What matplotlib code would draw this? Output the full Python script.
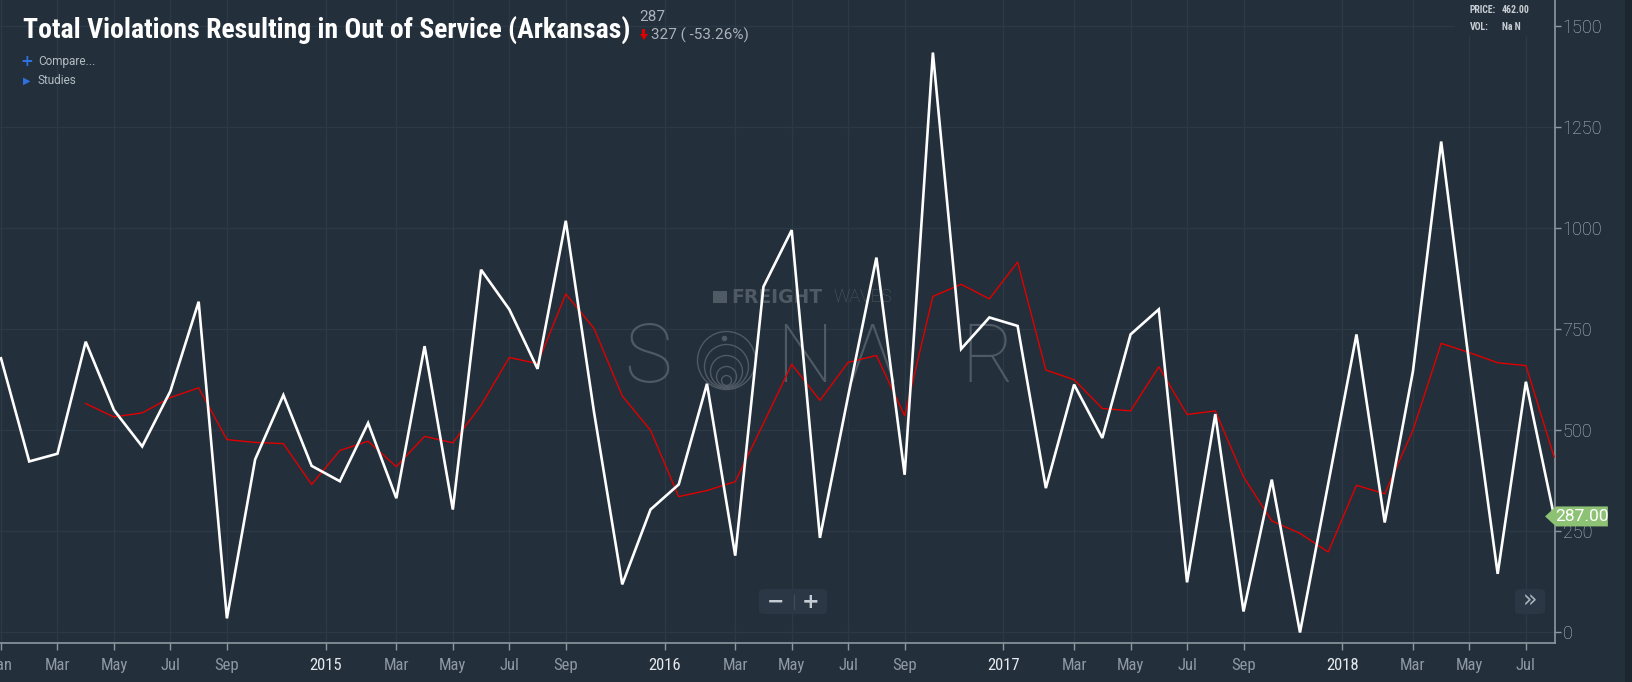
import numpy as np
import pandas as pd
import matplotlib
matplotlib.use("Agg")
import matplotlib.pyplot as plt
from matplotlib import font_manager
from matplotlib.font_manager import FontProperties
from matplotlib.patches import Polygon, Rectangle, FancyBboxPatch
from matplotlib.lines import Line2D

# ==========================================================
# Data (monthly, Jan 2014 - Aug 2018)
# ==========================================================

white_values = [
    678, 423, 442, 719, 550, 460, 597, 818, 35, 428, 587, 412,      # 2014
    374, 518, 332, 708, 304, 897, 799, 652, 1018, 545, 119, 304,    # 2015
    366, 615, 190, 855, 995, 234, 585, 927, 390, 1434, 701, 779,    # 2016
    758, 357, 613, 481, 737, 799, 124, 540, 52, 378, 0, 368,        # 2017
    737, 272, 646, 1214, 660, 145, 620, 287,                        # 2018
]

# red average line starts in Apr 2014
red_start = 3
red_values = [
    566, 533, 543, 581, 605, 477, 470, 467, 366,
    450, 473, 410, 485, 469, 562, 680, 665, 837, 752, 585, 500,
    336, 351, 373, 517, 663, 574, 668, 685, 536, 831, 861, 825,
    916, 649, 625, 554, 548, 657, 539, 548, 385, 276, 245, 199,
    364, 343, 500, 715, 692, 667, 660, 434,
]

y_ticks = [0, 250, 500, 750, 1000, 1250, 1500]
last_value = 287

months = pd.period_range("2014-01", periods=len(white_values), freq="M")

# ==========================================================
# Style
# ==========================================================

W, H = 1633, 682
BG = "#232f3a"
GRID = "#2c3a47"
AXIS = "#8e989f"


def pick_narrow():
    # a condensed family if one is installed, else plain Roboto
    for fam in ["Roboto Condensed", "Liberation Sans Narrow", "Open Sans Condensed"]:
        try:
            font_manager.findfont(FontProperties(family=fam), fallback_to_default=False)
            return dict(family=[fam, "DejaVu Sans"])
        except ValueError:
            pass
    f = font_manager.findfont(FontProperties(family="DejaVu Sans", stretch="condensed",
                                             weight="bold"))
    if "Condensed" in f:
        return dict(family=["DejaVu Sans"], fontstretch="condensed")
    return dict(family=["Roboto", "DejaVu Sans"])


NARROW = pick_narrow()
ROBOTO = ["Roboto", "DejaVu Sans"]


def fx(px):
    return px / W


def fy(py):
    return 1 - py / H


fig = plt.figure(figsize=(W / 100, H / 100), dpi=100, facecolor=BG)
ax = fig.add_axes([0, fy(643), fx(1555), 643 / H])
ax.set_facecolor(BG)

x = np.arange(len(white_values))
ax.plot(x[red_start:], red_values, color="#e00000", lw=1.0, zorder=3)
ax.plot(x, white_values, color="white", lw=1.9, zorder=4,
        solid_joinstyle="miter")

ax.set_xlim(-0.035, 55.03)
ax.set_ylim(-26, 1564)

# x ticks: first month, odd months, year labels half a bar early
tick_pos, tick_lab, is_year = [], [], []
for i, m in enumerate(months):
    if i == 0:
        tick_pos.append(i)
        tick_lab.append(m.strftime("%b"))
        is_year.append(False)
    elif m.month == 1:
        tick_pos.append(i - 0.5)
        tick_lab.append(str(m.year))
        is_year.append(True)
    elif m.month in (3, 5, 7, 9):
        tick_pos.append(i)
        tick_lab.append(m.strftime("%b"))
        is_year.append(False)

ax.set_xticks(tick_pos, tick_lab)
for lab, yr in zip(ax.get_xticklabels(), is_year):
    lab.set_family(NARROW["family"])
    if "fontstretch" in NARROW:
        lab.set_fontstretch("condensed")
    lab.set_color("#e6eaee" if yr else "#8f99a3")
    lab.set_fontsize(12)

ax.yaxis.tick_right()
ax.set_yticks(y_ticks, [str(v) for v in y_ticks])
for lab in ax.get_yticklabels():
    lab.set_family(ROBOTO)
    lab.set_fontweight("light")

ax.tick_params(axis="x", direction="out", length=5, width=1, color=AXIS,
               pad=6)
ax.tick_params(axis="y", direction="out", length=4, width=1, color=AXIS,
               labelcolor="#b9c1c8", labelsize=13, pad=1.5)

for s in ["top", "left"]:
    ax.spines[s].set_visible(False)
for s in ["bottom", "right"]:
    ax.spines[s].set_color(AXIS)
    ax.spines[s].set_linewidth(1.2)

ax.grid(True, color=GRID, lw=0.9)
ax.set_axisbelow(True)

# box behind price/vol readout covers the grid
ax.add_patch(Rectangle((fx(1455), fy(36)), fx(98), 36 / H, transform=fig.transFigure,
                       facecolor=BG, edgecolor="none", zorder=2, clip_on=False))

# ==========================================================
# Watermark
# ==========================================================

WM = "#4f5a65"
ax.add_patch(Rectangle((fx(713), fy(303)), fx(14), 12 / H, transform=fig.transFigure,
                       facecolor=WM, edgecolor="none", zorder=1, clip_on=False))
ax.text(fx(731), fy(297), "FREIGHT", transform=fig.transFigure, color=WM,
        fontsize=13.5, fontweight="heavy", family=["DejaVu Sans"],
        ha="left", va="center", zorder=1)
ax.text(fx(833), fy(297), "WAVES", transform=fig.transFigure, color=WM,
        fontsize=13, fontweight="light", family=ROBOTO,
        ha="left", va="center", zorder=1)

for ch, cx in [("S", 648), ("N", 805), ("Λ", 872), ("R", 988)]:
    ax.text(fx(cx), fy(360), ch, transform=fig.transFigure, color=WM,
            fontsize=58, fontweight=100, family=ROBOTO,
            ha="center", va="center", zorder=1)

for r, cy in [(29, 360), (22, 366), (16, 371), (10, 376), (5, 380)]:
    ax.add_line(Line2D([fx(726)], [fy(cy)], transform=fig.transFigure,
                       marker="o", markersize=2 * r * 0.72, mfc="none",
                       mec=WM, mew=1.0, zorder=1))
ax.add_line(Line2D([fx(724)], [fy(338)], transform=fig.transFigure,
                   marker="o", markersize=3, mfc=WM, mec=WM, zorder=1))

# ==========================================================
# Last value tag
# ==========================================================

dy = 10 / 0.4044
tag = Polygon([(0.9936, last_value), (1.0006, last_value + dy),
               (1.034, last_value + dy), (1.034, last_value - dy),
               (1.0006, last_value - dy)],
              closed=True, transform=ax.get_yaxis_transform(),
              facecolor="#8dc275", edgecolor="none", zorder=10, clip_on=False)
ax.add_patch(tag)
ax.text(1.0175, last_value, f"{last_value:.2f}", transform=ax.get_yaxis_transform(),
        color="white", fontsize=12.5, family=ROBOTO,
        ha="center", va="center", zorder=11, clip_on=False)

# ==========================================================
# Buttons
# ==========================================================

btn_kw = dict(boxstyle="round,pad=0,rounding_size=0.004", transform=fig.transFigure,
              facecolor="#2b3744", edgecolor="none", zorder=6, clip_on=False)
ax.add_patch(FancyBboxPatch((fx(759), fy(614)), fx(68), 25 / H, **btn_kw))
ax.add_patch(FancyBboxPatch((fx(1515), fy(614)), fx(30), 25 / H, **btn_kw))
ax.add_line(Line2D([fx(794), fx(794)], [fy(595), fy(609)], transform=fig.transFigure,
                   color="#3e4b58", lw=1, zorder=7))
ax.text(fx(776), fy(602), "−", transform=fig.transFigure, color="#c5ccd3",
        fontsize=15, fontweight="bold", ha="center", va="center", zorder=7)
ax.text(fx(811), fy(602), "+", transform=fig.transFigure, color="#c5ccd3",
        fontsize=15, fontweight="bold", ha="center", va="center", zorder=7)
ax.text(fx(1530), fy(601), "»", transform=fig.transFigure, color="#a9b2bb",
        fontsize=17, ha="center", va="center", zorder=7)

# ==========================================================
# Header texts
# ==========================================================

title = fig.text(fx(23), fy(37.5), "Total Violations Resulting in Out of Service (Arkansas)",
                 color="white", fontsize=21, fontweight="bold",
                 ha="left", va="baseline", **NARROW)
# fit the title to the width it has in the reference (x 23 -> 632 px)
renderer = fig.canvas.get_renderer()
tw = title.get_window_extent(renderer).width
title.set_fontsize(21 * 609 / tw)

fig.text(fx(639), fy(17), "287", color="#aab2ba", fontsize=11,
         family=ROBOTO, ha="left", va="center")
# red down arrow: stem + head
fig.add_artist(Rectangle((fx(642.5), fy(35)), fx(3), 6 / H, transform=fig.transFigure,
                         facecolor="#e00000", edgecolor="none"))
fig.add_artist(Polygon([(fx(640), fy(34)), (fx(648), fy(34)), (fx(644), fy(40))],
                       closed=True, transform=fig.transFigure,
                       facecolor="#e00000", edgecolor="none"))
fig.text(fx(651), fy(35), "327 ( -53.26%)", color="#aab2ba", fontsize=11,
         family=ROBOTO, ha="left", va="center")

fig.text(fx(27), fy(62), "+", color="#2d72e0", fontsize=11, fontweight="bold",
         ha="center", va="center")
fig.text(fx(38), fy(62), "Compare...", color="#b4bcc3", fontsize=8.5,
         family=ROBOTO, ha="left", va="center")
fig.text(fx(27), fy(81), "▶", color="#2d72e0", fontsize=7,
         family=["DejaVu Sans"], ha="center", va="center")
fig.text(fx(38), fy(81), "Studies", color="#b4bcc3", fontsize=8.5,
         family=ROBOTO, ha="left", va="center")

for label, px, py in [("PRICE:", 1470, 10), ("462.00", 1502, 10),
                      ("VOL:", 1470, 27), ("Na N", 1502, 27)]:
    fig.text(fx(px), fy(py), label, color="#c8ced4", fontsize=7, fontweight="bold",
             ha="left", va="center", **NARROW)

fig.add_artist(Rectangle((fx(1625), 0), fx(8), 1, transform=fig.transFigure,
                         facecolor="#1c262f", edgecolor="none", zorder=-1))

fig.savefig("out.png", dpi=100, facecolor=BG)
